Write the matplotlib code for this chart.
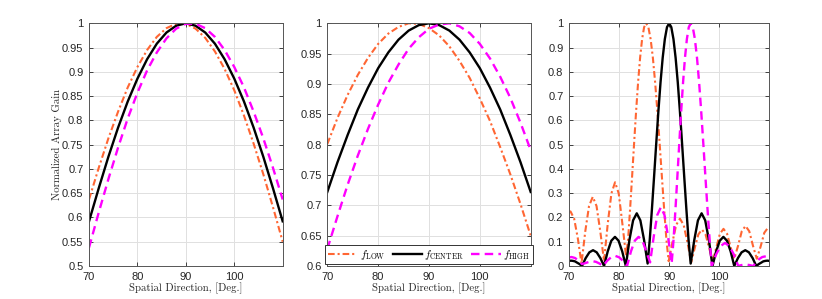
import numpy as np
import matplotlib
matplotlib.use('Agg')
import matplotlib.pyplot as plt

plt.rcParams['font.family'] = ['Liberation Sans', 'DejaVu Sans']
plt.rcParams['mathtext.fontset'] = 'cm'

# spatial direction grid for the two wide-beam panels
deg = [70, 72, 74, 76, 78, 80, 82, 84, 86, 88, 90, 92, 94, 96, 98, 100, 102, 104, 106, 108, 110]

# panel 1
p1_low = [0.637, 0.702, 0.763, 0.818, 0.868, 0.910, 0.945, 0.972, 0.990, 0.999, 0.999,
          0.989, 0.970, 0.942, 0.906, 0.862, 0.810, 0.752, 0.689, 0.621, 0.550]
p1_center = [0.592, 0.660, 0.725, 0.785, 0.839, 0.886, 0.926, 0.958, 0.981, 0.995, 1.000,
             0.995, 0.981, 0.958, 0.926, 0.886, 0.839, 0.785, 0.725, 0.660, 0.592]
p1_high = [0.538, 0.610, 0.679, 0.744, 0.804, 0.857, 0.903, 0.940, 0.969, 0.989, 0.999,
           0.999, 0.990, 0.972, 0.945, 0.910, 0.868, 0.818, 0.763, 0.702, 0.637]

# panel 2
p2_low = [0.801, 0.844, 0.882, 0.915, 0.943, 0.966, 0.983, 0.994, 1.000, 0.999, 0.992,
          0.980, 0.962, 0.938, 0.910, 0.876, 0.839, 0.796, 0.751, 0.702, 0.650]
p2_center = [0.722, 0.771, 0.816, 0.858, 0.894, 0.926, 0.952, 0.973, 0.988, 0.997, 1.000,
             0.997, 0.988, 0.973, 0.952, 0.926, 0.894, 0.858, 0.816, 0.771, 0.722]
p2_high = [0.628, 0.682, 0.734, 0.782, 0.826, 0.866, 0.902, 0.932, 0.958, 0.977, 0.991,
           0.998, 1.000, 0.995, 0.984, 0.966, 0.942, 0.912, 0.877, 0.836, 0.791]

# panel 3 (narrow beam with side lobes)
p3_low_x = [70.0, 70.3, 71.03, 71.77, 72.5, 73.25, 74.0, 74.75, 75.5, 76.25, 77.0,
            77.73, 78.47, 79.2, 79.93, 80.67, 81.4, 81.8, 82.2, 82.6, 83.0, 83.4, 83.8,
            84.2, 84.6, 85.0, 85.4, 85.85, 86.3, 86.75, 87.2, 87.65, 88.1, 88.55, 89.0,
            89.45, 89.9, 90.65, 91.4, 92.15, 92.9, 93.65, 94.4, 95.12, 95.83, 96.55,
            97.27, 97.98, 98.7, 99.42, 100.13, 100.85, 101.57, 102.28, 103.0, 103.75,
            104.5, 105.25, 106.0, 106.75, 107.5, 108.25, 109.0, 109.75, 110.0]
p3_low_y = [0.220, 0.225, 0.195, 0.113, 0.01, 0.1425, 0.247, 0.285, 0.247, 0.1425, 0.02,
            0.1725, 0.299, 0.345, 0.299, 0.1725, 0.04, 0.109, 0.234, 0.368, 0.505, 0.637,
            0.757, 0.858, 0.935, 0.984, 1.0, 0.984, 0.935, 0.858, 0.757, 0.637, 0.505,
            0.368, 0.234, 0.109, 0.02, 0.0975, 0.169, 0.195, 0.169, 0.0975, 0.015, 0.075,
            0.13, 0.15, 0.13, 0.075, 0.02, 0.0765, 0.1325, 0.153, 0.1325, 0.0765, 0.03,
            0.0825, 0.143, 0.165, 0.143, 0.0825, 0.03, 0.079, 0.137, 0.158, 0.157]

p3_center_x = [70.0, 70.4, 70.8, 71.2, 71.6, 72.1, 72.6, 73.33, 74.07, 74.8, 75.53, 76.27,
               77.0, 77.73, 78.45, 79.18, 79.9, 80.63, 81.35, 82.08, 82.8, 83.53, 84.25,
               84.98, 85.7, 86.13, 86.56, 86.99, 87.42, 87.85, 88.28, 88.71, 89.14, 89.57,
               90.0, 90.43, 90.86, 91.29, 91.72, 92.15, 92.58, 93.01, 93.44, 93.87, 94.3,
               95.03, 95.75, 96.48, 97.2, 97.93, 98.65, 99.38, 100.1, 100.83, 101.55,
               102.28, 103.0, 103.73, 104.47, 105.2, 105.93, 106.67, 107.4, 107.9, 108.4,
               108.8, 109.2, 109.6, 110.0]
p3_center_y = [0.021, 0.022, 0.021, 0.019, 0.014, 0.008, 0.0, 0.0325, 0.0563, 0.065, 0.0563,
               0.0325, 0.0, 0.06, 0.104, 0.12, 0.104, 0.06, 0.0, 0.1085, 0.188, 0.217, 0.188,
               0.1085, 0.01, 0.109, 0.234, 0.368, 0.505, 0.637, 0.757, 0.858, 0.935, 0.984,
               1.0, 0.984, 0.935, 0.858, 0.757, 0.637, 0.505, 0.368, 0.234, 0.109, 0.01,
               0.1085, 0.188, 0.217, 0.188, 0.1085, 0.0, 0.06, 0.104, 0.12, 0.104, 0.06, 0.0,
               0.0325, 0.0563, 0.065, 0.0563, 0.0325, 0.0, 0.008, 0.014, 0.019, 0.021, 0.022,
               0.021]

p3_high_x = [70.0, 70.5, 71.2, 71.9, 72.6, 73.3, 74.0, 74.7, 75.4, 76.1, 76.8, 77.6, 78.4,
             79.2, 80.0, 80.8, 81.6, 82.37, 83.13, 83.9, 84.67, 85.43, 86.2, 86.92, 87.63,
             88.35, 89.07, 89.78, 90.5, 90.88, 91.26, 91.64, 92.02, 92.4, 92.78, 93.16,
             93.54, 93.92, 94.3, 94.72, 95.14, 95.56, 95.98, 96.4, 96.82, 97.24, 97.66,
             98.08, 98.5, 99.38, 100.27, 101.15, 102.03, 102.92, 103.8, 104.5, 105.3, 106.0,
             106.8, 107.4, 108.0, 108.6, 109.3, 110.0]
p3_high_y = [0.035, 0.037, 0.033, 0.022, 0.008, 0.012, 0.017, 0.02, 0.017, 0.01, 0.0, 0.021,
             0.036, 0.042, 0.036, 0.021, 0.0, 0.06, 0.104, 0.12, 0.104, 0.06, 0.015, 0.121,
             0.21, 0.242, 0.21, 0.121, 0.01, 0.109, 0.234, 0.368, 0.505, 0.637, 0.757, 0.858,
             0.935, 0.984, 1.0, 0.984, 0.935, 0.858, 0.757, 0.637, 0.505, 0.368, 0.234, 0.109,
             0.0, 0.0475, 0.082, 0.095, 0.082, 0.0475, 0.0, 0.004, 0.006, 0.004, 0.0, 0.016,
             0.029, 0.037, 0.04, 0.036]

labels = [r'$f_{\mathrm{LOW}}$', r'$f_{\mathrm{CENTER}}$', r'$f_{\mathrm{HIGH}}$']
c_low = '#ff6633'
c_center = 'black'
c_high = '#ff00ff'
edge = '#262626'

fig = plt.figure(figsize=(8.22, 2.99), dpi=100)
ax1 = fig.add_axes([0.1083, 0.1104, 0.2356, 0.8117])
ax2 = fig.add_axes([0.3982, 0.1104, 0.2474, 0.8117])
ax3 = fig.add_axes([0.6922, 0.1104, 0.2437, 0.8117])

panels = [
    (ax1, deg, p1_low, deg, p1_center, deg, p1_high, (0.5, 1.0), np.arange(0.5, 1.001, 0.05)),
    (ax2, deg, p2_low, deg, p2_center, deg, p2_high, (0.6, 1.0), np.arange(0.6, 1.001, 0.05)),
    (ax3, p3_low_x, p3_low_y, p3_center_x, p3_center_y, p3_high_x, p3_high_y, (0, 1.0),
     np.arange(0, 1.001, 0.1)),
]

for ax, xl, yl, xc, yc, xh, yh, ylim, yt in panels:
    ax.plot(xl, yl, color=c_low, lw=1.5, dashes=(3.2, 1.4, 1, 1.4), label=labels[0])
    ax.plot(xc, yc, color=c_center, lw=1.7, label=labels[1])
    ax.plot(xh, yh, color=c_high, lw=1.7, dashes=(3.6, 2.2), label=labels[2])
    ax.set_xlim(70, 110)
    ax.set_ylim(*ylim)
    ax.set_xticks([70, 80, 90, 100])
    ax.set_yticks(yt)
    ax.set_yticklabels(['%g' % round(v, 2) for v in yt])
    ax.grid(True, color='#e0e0e0', lw=0.7)
    ax.set_axisbelow(True)
    ax.tick_params(direction='in', length=3, width=0.6, labelsize=8, colors=edge,
                   top=True, right=True)
    ax.tick_params(axis='x', pad=4)
    ax.tick_params(axis='y', pad=4)
    for s in ax.spines.values():
        s.set_color('#555555')
        s.set_linewidth(0.7)
    ax.set_xlabel('Spatial Direction, [Deg.]', family='cmr10', fontsize=7.8, labelpad=1,
                  color=edge)

ax1.set_ylabel('Normalized Array Gain', family='cmr10', fontsize=7.8, labelpad=0, color=edge)

leg = ax2.legend(loc='lower center', ncol=3, fontsize=7.8, frameon=True, fancybox=False,
                 framealpha=1, edgecolor='#333333', handlelength=2.7, handletextpad=0.2,
                 columnspacing=0.7, borderpad=0.25, borderaxespad=0.15)
leg.get_frame().set_linewidth(0.7)

fig.savefig('out.png', dpi=100)
